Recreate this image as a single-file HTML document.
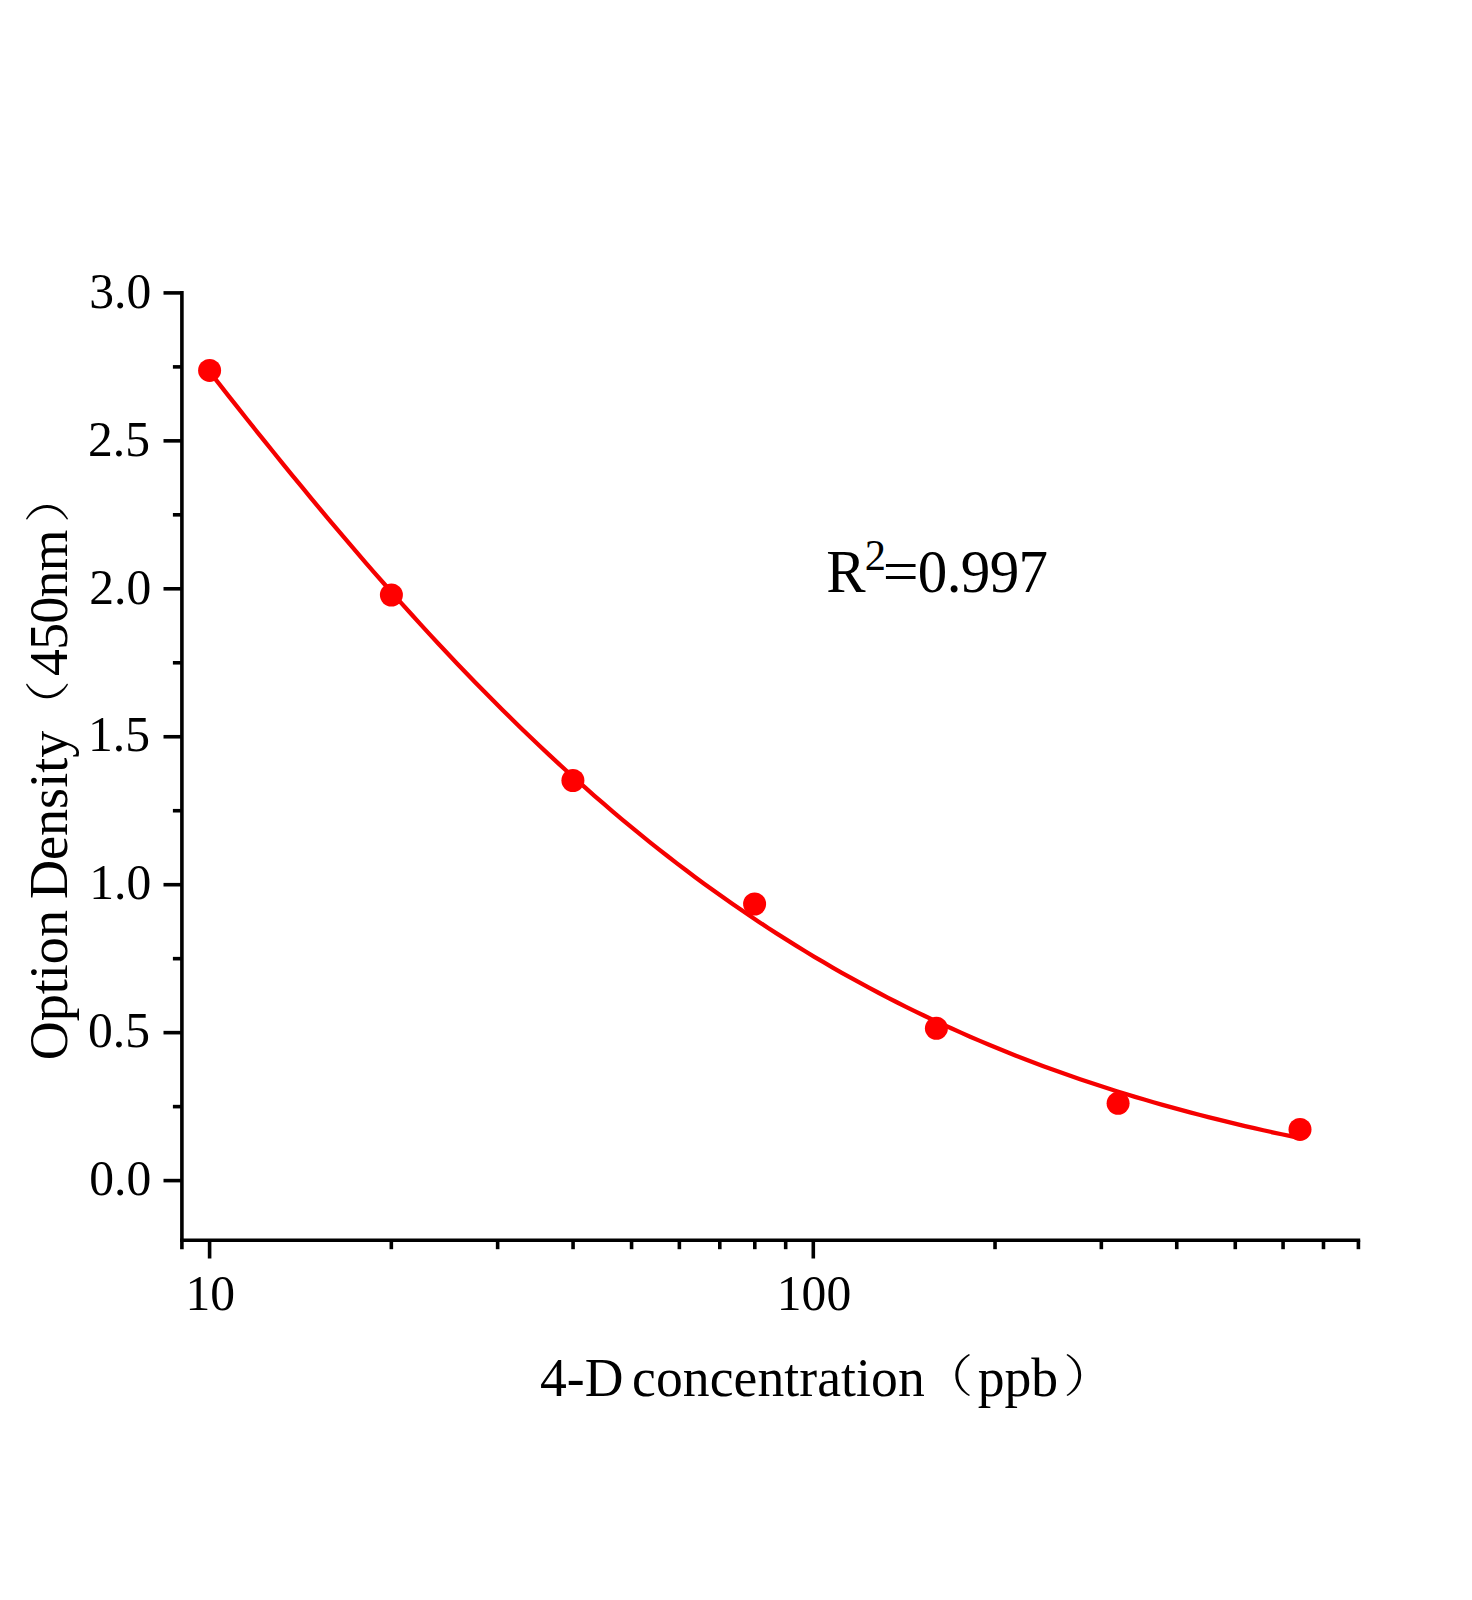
<!DOCTYPE html>
<html lang="en"><head><meta charset="utf-8"><title>Standard curve</title>
<style>html,body{margin:0;padding:0;background:#fff}body{width:1472px;height:1600px;overflow:hidden}svg{display:block}text{font-family:"Liberation Serif", "Noto Serif CJK SC", serif;fill:#000}.cj{font-family:"Noto Serif CJK SC","Liberation Serif",serif;font-weight:300}</style></head><body>
<svg width="1472" height="1600" viewBox="0 0 1472 1600">
<rect width="1472" height="1600" fill="#fff"/>
<g stroke="#000" stroke-width="3.60" fill="none" stroke-linecap="butt">
<line x1="181.90" y1="291.10" x2="181.90" y2="1249.20"/>
<line x1="180.10" y1="1240.20" x2="1360.20" y2="1240.20"/>
<line x1="163.50" y1="1180.60" x2="181.90" y2="1180.60"/>
<line x1="163.50" y1="1032.65" x2="181.90" y2="1032.65"/>
<line x1="163.50" y1="884.70" x2="181.90" y2="884.70"/>
<line x1="163.50" y1="736.75" x2="181.90" y2="736.75"/>
<line x1="163.50" y1="588.80" x2="181.90" y2="588.80"/>
<line x1="163.50" y1="440.85" x2="181.90" y2="440.85"/>
<line x1="163.50" y1="292.90" x2="181.90" y2="292.90"/>
<line x1="172.90" y1="1106.62" x2="181.90" y2="1106.62"/>
<line x1="172.90" y1="958.67" x2="181.90" y2="958.67"/>
<line x1="172.90" y1="810.72" x2="181.90" y2="810.72"/>
<line x1="172.90" y1="662.77" x2="181.90" y2="662.77"/>
<line x1="172.90" y1="514.82" x2="181.90" y2="514.82"/>
<line x1="172.90" y1="366.88" x2="181.90" y2="366.88"/>
<line x1="209.60" y1="1240.20" x2="209.60" y2="1258.50"/>
<line x1="813.30" y1="1240.20" x2="813.30" y2="1258.50"/>
<line x1="391.33" y1="1240.20" x2="391.33" y2="1249.20"/>
<line x1="497.64" y1="1240.20" x2="497.64" y2="1249.20"/>
<line x1="573.06" y1="1240.20" x2="573.06" y2="1249.20"/>
<line x1="631.57" y1="1240.20" x2="631.57" y2="1249.20"/>
<line x1="679.37" y1="1240.20" x2="679.37" y2="1249.20"/>
<line x1="719.79" y1="1240.20" x2="719.79" y2="1249.20"/>
<line x1="754.80" y1="1240.20" x2="754.80" y2="1249.20"/>
<line x1="785.68" y1="1240.20" x2="785.68" y2="1249.20"/>
<line x1="995.03" y1="1240.20" x2="995.03" y2="1249.20"/>
<line x1="1101.34" y1="1240.20" x2="1101.34" y2="1249.20"/>
<line x1="1176.76" y1="1240.20" x2="1176.76" y2="1249.20"/>
<line x1="1235.27" y1="1240.20" x2="1235.27" y2="1249.20"/>
<line x1="1283.07" y1="1240.20" x2="1283.07" y2="1249.20"/>
<line x1="1323.49" y1="1240.20" x2="1323.49" y2="1249.20"/>
<line x1="1358.40" y1="1240.20" x2="1358.40" y2="1249.20"/>
</g>
<text id="y0" transform="translate(151.20,1195.30) scale(1.000,1.030)" font-size="49.60" text-anchor="end">0.0</text>
<text id="y1" transform="translate(150.00,1047.35) scale(1.000,1.030)" font-size="49.60" text-anchor="end">0.5</text>
<text id="y2" transform="translate(151.20,899.40) scale(1.000,1.030)" font-size="49.60" text-anchor="end">1.0</text>
<text id="y3" transform="translate(150.00,751.45) scale(1.000,1.030)" font-size="49.60" text-anchor="end">1.5</text>
<text id="y4" transform="translate(151.20,603.50) scale(1.000,1.030)" font-size="49.60" text-anchor="end">2.0</text>
<text id="y5" transform="translate(150.00,455.55) scale(1.000,1.030)" font-size="49.60" text-anchor="end">2.5</text>
<text id="y6" transform="translate(151.20,307.60) scale(1.000,1.030)" font-size="49.60" text-anchor="end">3.0</text>
<text id="x10" transform="translate(210.30,1310.00) scale(1.000,1.030)" font-size="49.60" text-anchor="middle">10</text>
<text id="x100" transform="translate(814.00,1309.80) scale(1.000,1.030)" font-size="49.60" text-anchor="middle">100</text>
<text id="xtitle" transform="scale(1,1.030)" font-size="53.60"><tspan id="xt1" x="540.00" y="1354.95">4-D </tspan><tspan id="xt2" x="632.00" y="1354.95" letter-spacing="0.1">concentration</tspan><tspan id="xt3" class="cj" font-size="43.69" x="921.50" y="1352.72" textLength="51.75" lengthAdjust="spacingAndGlyphs">（</tspan><tspan id="xt4" x="977.70" y="1354.95">ppb</tspan><tspan id="xt5" class="cj" font-size="43.69" x="1063.30" y="1352.72" textLength="51.75" lengthAdjust="spacingAndGlyphs">）</tspan></text>
<text id="ytitle" transform="rotate(-90) scale(1,1.030)" font-size="53.60"><tspan id="yt1" font-size="54.1" word-spacing="-2.5" x="-1060.30" y="65.05">Option Density</tspan><tspan id="yt3" class="cj" font-size="43.69" x="-732.00" y="63.59" textLength="51.75" lengthAdjust="spacingAndGlyphs">（</tspan><tspan id="yt4" letter-spacing="-0.6" x="-676.00" y="65.05">450nm</tspan><tspan id="yt5" class="cj" font-size="43.69" x="-522.90" y="63.59" textLength="51.75" lengthAdjust="spacingAndGlyphs">）</tspan></text>
<text id="annot" transform="scale(1,1.030)" font-size="59.00"><tspan id="a1" x="826.30" y="575.05">R</tspan><tspan id="a2" font-size="42.5" x="864.70" y="553.59">2</tspan><tspan id="a3" x="882.80" y="575.05" textLength="35.94" lengthAdjust="spacingAndGlyphs">=</tspan><tspan id="a4" letter-spacing="-0.6" x="917.80" y="575.05">0.997</tspan></text>
<path d="M209.60 371.76 L218.76 383.45 L227.93 395.09 L237.09 406.69 L246.25 418.23 L255.41 429.72 L264.58 441.14 L273.74 452.51 L282.90 463.82 L292.07 475.05 L301.23 486.22 L310.39 497.32 L319.56 508.35 L328.72 519.29 L337.88 530.16 L347.04 540.95 L356.21 551.66 L365.37 562.28 L374.53 572.81 L383.70 583.26 L392.86 593.61 L402.02 603.88 L411.18 614.04 L420.35 624.11 L429.51 634.09 L438.67 643.97 L447.84 653.74 L457.00 663.42 L466.16 672.99 L475.33 682.46 L484.49 691.82 L493.65 701.08 L502.81 710.23 L511.98 719.28 L521.14 728.21 L530.30 737.04 L539.47 745.76 L548.63 754.37 L557.79 762.88 L566.95 771.27 L576.12 779.55 L585.28 787.72 L594.44 795.78 L603.61 803.73 L612.77 811.57 L621.93 819.30 L631.10 826.91 L640.26 834.42 L649.42 841.82 L658.58 849.11 L667.75 856.29 L676.91 863.36 L686.07 870.32 L695.24 877.17 L704.40 883.92 L713.56 890.56 L722.73 897.10 L731.89 903.53 L741.05 909.85 L750.21 916.07 L759.38 922.19 L768.54 928.21 L777.70 934.12 L786.87 939.94 L796.03 945.65 L805.19 951.27 L814.35 956.79 L823.52 962.21 L832.68 967.54 L841.84 972.77 L851.01 977.91 L860.17 982.95 L869.33 987.91 L878.50 992.77 L887.66 997.54 L896.82 1002.23 L905.98 1006.83 L915.15 1011.34 L924.31 1015.77 L933.47 1020.11 L942.64 1024.38 L951.80 1028.56 L960.96 1032.66 L970.12 1036.68 L979.29 1040.62 L988.45 1044.49 L997.61 1048.28 L1006.78 1052.00 L1015.94 1055.64 L1025.10 1059.21 L1034.27 1062.71 L1043.43 1066.14 L1052.59 1069.50 L1061.75 1072.79 L1070.92 1076.02 L1080.08 1079.18 L1089.24 1082.28 L1098.41 1085.31 L1107.57 1088.28 L1116.73 1091.19 L1125.89 1094.04 L1135.06 1096.83 L1144.22 1099.56 L1153.38 1102.24 L1162.55 1104.86 L1171.71 1107.42 L1180.87 1109.93 L1190.04 1112.39 L1199.20 1114.79 L1208.36 1117.15 L1217.52 1119.45 L1226.69 1121.71 L1235.85 1123.91 L1245.01 1126.07 L1254.18 1128.18 L1263.34 1130.25 L1272.50 1132.28 L1281.66 1134.25 L1290.83 1136.19 L1299.99 1138.08" fill="none" stroke="#f50000" stroke-width="4.3" stroke-linejoin="round"/>
<g fill="#ff0000">
<circle cx="209.6" cy="370.4" r="11.5"/>
<circle cx="391.4" cy="595.0" r="11.5"/>
<circle cx="572.9" cy="780.5" r="11.5"/>
<circle cx="754.6" cy="904.0" r="11.5"/>
<circle cx="936.4" cy="1028.3" r="11.5"/>
<circle cx="1118.1" cy="1103.3" r="11.5"/>
<circle cx="1300.0" cy="1129.4" r="11.5"/>
</g>
</svg></body></html>
